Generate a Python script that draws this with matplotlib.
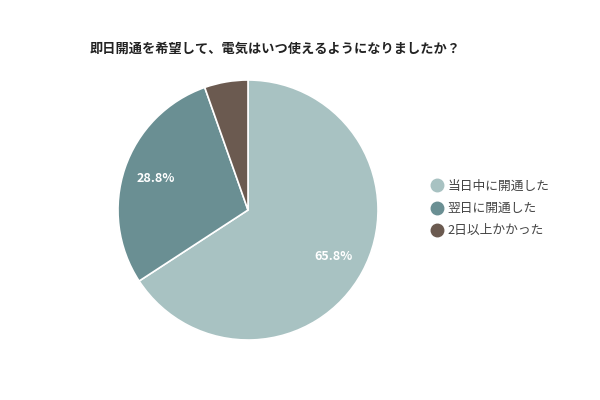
import matplotlib
matplotlib.use("Agg")
import matplotlib.pyplot as plt
from matplotlib.lines import Line2D

plt.rcParams['font.family'] = ['Noto Sans CJK JP', 'DejaVu Sans']

title = "即日開通を希望して、電気はいつ使えるようになりましたか？"
categories = ["当日中に開通した", "翌日に開通した", "2日以上かかった"]
values = [65.8, 28.8, 5.4]
colors = ["#a8c2c2", "#6a8f93", "#6b5a50"]

fig = plt.figure(figsize=(6, 4), dpi=100)
W, H = 600, 400
cx, cy, r = 248, 210, 130
ax = fig.add_axes([(cx - r) / W, (H - cy - r) / H, 2 * r / W, 2 * r / H])

def fmt(p):
    return f"{p:.1f}%" if p > 10 else ""

wedges, texts, autotexts = ax.pie(
    values, colors=colors, startangle=90, counterclock=False,
    autopct=fmt, pctdistance=0.75, radius=1.0,
    wedgeprops=dict(edgecolor="white", linewidth=1.2),
    textprops=dict(color="white", fontsize=9, fontweight="bold"))
ax.set_xlim(-1, 1)
ax.set_ylim(-1, 1)
ax.set_aspect("equal")
ax.axis("off")

fig.text(90 / W, 1 - 49 / H, title, fontsize=9.5, fontweight="bold",
         color="#222222", ha="left", va="center")

handles = [Line2D([0], [0], marker="o", linestyle="none", markersize=9,
                  markerfacecolor=c, markeredgecolor=c) for c in colors]
leg = fig.legend(handles, categories, loc="center left",
                 bbox_to_anchor=(423 / W, 1 - 208.5 / H), frameon=False,
                 fontsize=9.2, labelcolor="#444444", handletextpad=0.2,
                 labelspacing=0.72, handlelength=1.2, borderpad=0)

fig.savefig("out.png", dpi=100, facecolor="white")
